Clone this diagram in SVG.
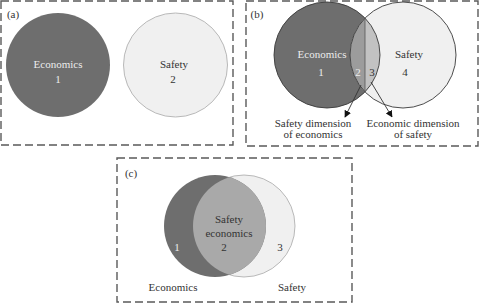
<svg xmlns="http://www.w3.org/2000/svg" width="480" height="304" viewBox="0 0 480 304" font-family="'Liberation Serif', 'Times New Roman', Times, serif">
<style>
.box{fill:none;stroke:#5a5a5a;stroke-width:1.4;stroke-dasharray:8 4}
text{font-family:'Liberation Serif','Times New Roman',Times,serif;font-size:11px;text-anchor:middle}
.lt{fill:#ececec}
.dk{fill:#333}
.econ{fill:#6e6e6e}
.safe{fill:#f0f0f0}
.conn{stroke:#333;stroke-width:0.9;fill:none}
</style>
<defs>
<marker id="ah" viewBox="0 0 10 10" refX="9" refY="5" markerWidth="7" markerHeight="7" orient="auto" markerUnits="userSpaceOnUse">
<path d="M0,0 L10,5 L0,10 z" fill="#111"/>
</marker>
<clipPath id="cEb"><circle cx="327" cy="55" r="53"/></clipPath>
<clipPath id="cSb"><circle cx="403" cy="55" r="53"/></clipPath>
<clipPath id="cEc"><circle cx="215" cy="226" r="51"/></clipPath>
</defs>

<g id="panel-a">
<rect class="box" x="1" y="1" width="232" height="144"/>
<text class="dk" x="13" y="18">(a)</text>
<g id="a-economics">
<circle class="econ" cx="58" cy="65" r="52"/>
<text class="lt" x="58" y="68">Economics</text>
<text class="lt" x="58" y="83">1</text>
</g>
<g id="a-safety">
<circle class="safe" cx="175.5" cy="65" r="52" stroke="#a8a8a8" stroke-width="0.8"/>
<text class="dk" x="174" y="68">Safety</text>
<text class="dk" x="173" y="83">2</text>
</g>
</g>

<g id="panel-b">
<rect class="box" x="246" y="1" width="232" height="145"/>
<text class="dk" x="257" y="18">(b)</text>
<g id="b-economics">
<circle class="econ" cx="327" cy="55" r="53"/>
</g>
<g id="b-safety">
<circle class="safe" cx="403" cy="55" r="53"/>
</g>
<g id="b-overlap" clip-path="url(#cEb)">
<g clip-path="url(#cSb)">
<rect x="340" y="0" width="25" height="110" fill="#9c9c9c"/>
<rect x="365" y="0" width="25" height="110" fill="#c2c2c2"/>
</g>
</g>
<circle cx="327" cy="55" r="53" fill="none" stroke="#3a3a3a" stroke-width="0.9"/>
<circle cx="403" cy="55" r="53" fill="none" stroke="#3a3a3a" stroke-width="0.9"/>
<line x1="365" y1="18" x2="365" y2="92" stroke="#555" stroke-width="0.8"/>
<text class="lt" x="322" y="58">Economics</text>
<text class="lt" x="321" y="76">1</text>
<text class="dk" x="409" y="58">Safety</text>
<text class="dk" x="405" y="76">4</text>
<text class="lt" x="358" y="76">2</text>
<text class="dk" x="372" y="76">3</text>
<g id="b-label-1">
<text class="dk" x="313" y="127">Safety dimension</text>
<text class="dk" x="313" y="138">of economics</text>
</g>
<g id="b-label-2">
<text class="dk" x="413" y="127">Economic dimension</text>
<text class="dk" x="413" y="138">of safety</text>
</g>
<g id="connectors">
<line class="conn" x1="361" y1="85" x2="345" y2="117" marker-end="url(#ah)"/>
<line class="conn" x1="371" y1="82" x2="392" y2="117" marker-end="url(#ah)"/>
</g>
</g>

<g id="panel-c">
<rect class="box" x="117" y="158" width="235" height="144"/>
<text class="dk" x="131" y="177">(c)</text>
<g id="c-safety">
<circle class="safe" cx="244" cy="226" r="51" stroke="#a8a8a8" stroke-width="0.8"/>
</g>
<g id="c-economics">
<circle class="econ" cx="215" cy="226" r="51"/>
</g>
<g id="c-overlap" clip-path="url(#cEc)">
<circle cx="244" cy="226" r="51" fill="#a9a9a9"/>
</g>
<text class="dk" x="229" y="223">Safety</text>
<text class="dk" x="229" y="237">economics</text>
<text class="dk" x="224" y="251">2</text>
<text class="lt" x="177" y="251">1</text>
<text class="dk" x="280" y="251">3</text>
<text class="dk" x="173" y="291">Economics</text>
<text class="dk" x="292" y="291">Safety</text>
</g>
</svg>
